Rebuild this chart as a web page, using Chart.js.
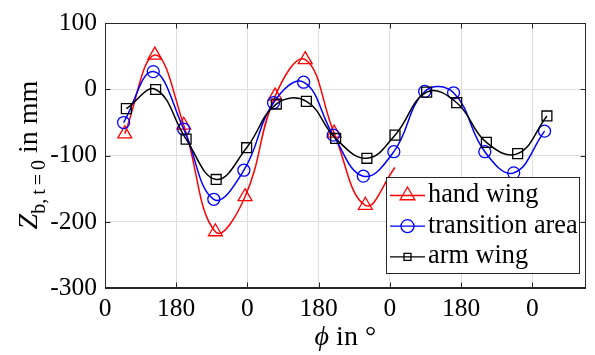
<!DOCTYPE html>
<html>
<head>
<meta charset="utf-8">
<script src="https://cdn.jsdelivr.net/npm/chart.js@4/dist/chart.umd.min.js"></script>
<style>
  body{margin:0;background:#fff;}
  #wrap{width:595px;height:355px;}
</style>
</head>
<body>
<div id="wrap"><canvas id="myChart" width="595" height="355"></canvas></div>
<script>
// data (x in degrees, y in mm)
var handX = [50, 126, 199, 279, 354, 430, 506, 579, 658, 733];
var handY = [-67, 52, -54, -215, -162, -10, 45, -66, -175, -118];
var transX = [47, 122, 199, 275, 351, 426, 502, 577, 653, 730, 808, 881, 960, 1033, 1111];
var transY = [-50, 27, -60, -166, -122, -20, 11, -69, -131, -94, -3, -5, -94, -126, -63];
var armX = [54, 128, 205, 281, 358, 433, 509, 583, 662, 733, 813, 889, 964, 1043, 1117];
var armY = [-29, 0, -75, -136, -88, -22, -18, -74, -104, -69, -4, -20, -80, -97, -40];

var xTickValues = [0, 180, 360, 540, 720, 900, 1080];
var xTickLabels = ['0', '180', '0', '180', '0', '180', '0'];
var yTickValues = [-300, -200, -100, 0, 100];

var seriesNames = ['hand wing', 'transition area', 'arm wing'];
var seriesColors = ['#ff0000', '#0000ff', '#000000'];

var FONT = '"Liberation Serif", "Times New Roman", serif';
var AXIS = '#262626';

// x/y paaren bauen
function toPoints(xs, ys){
  var pts = [];
  for (var i = 0; i < xs.length; i++) pts.push({x: xs[i], y: ys[i]});
  return pts;
}

// letzter Punkt der roten Kurve hat keinen Marker
var handRadius = handX.map(function(v, i){ return i < 9 ? 8 : 0; });

// Marker selbst zeichnen (fuer die Legende)
function marker(ctx, style, x, y, r){
  ctx.beginPath();
  if (style == 'triangle'){
    ctx.moveTo(x, y - r);
    ctx.lineTo(x + r * 0.866, y + r * 0.5);
    ctx.lineTo(x - r * 0.866, y + r * 0.5);
    ctx.closePath();
  } else if (style == 'circle'){
    ctx.arc(x, y, r, 0, Math.PI * 2);
  } else {
    ctx.rect(x - r, y - r, 2 * r, 2 * r);
  }
  ctx.stroke();
}

// Text-Stuecke nacheinander schreiben: [text, font, dy]
function drawPieces(ctx, pieces, x, y){
  pieces.forEach(function(p){
    ctx.font = p[1];
    ctx.fillText(p[0], x, y + p[2]);
    x += ctx.measureText(p[0]).width;
  });
}
function piecesWidth(ctx, pieces){
  var w = 0;
  pieces.forEach(function(p){ ctx.font = p[1]; w += ctx.measureText(p[0]).width; });
  return w;
}

var matlabAxes = {
  id: 'matlabAxes',
  afterDatasetsDraw: function(chart){
    var ctx = chart.ctx, a = chart.chartArea;
    var xs = chart.scales.x, ys = chart.scales.y;
    var L = Math.round(a.left) + 0.5, R = Math.round(a.right) - 0.5;
    var T = Math.round(a.top) + 0.5, B = Math.round(a.bottom) - 0.5;
    ctx.save();
    ctx.strokeStyle = AXIS;
    ctx.lineWidth = 1;
    ctx.strokeRect(L, T, R - L, B - T);
    ctx.beginPath();
    xTickValues.forEach(function(v){
      var px = Math.round(xs.getPixelForValue(v)) + 0.5;
      ctx.moveTo(px, B); ctx.lineTo(px, B - 5);
      ctx.moveTo(px, T); ctx.lineTo(px, T + 5);
    });
    yTickValues.forEach(function(v){
      var py = Math.round(ys.getPixelForValue(v)) + 0.5;
      ctx.moveTo(L, py); ctx.lineTo(L + 5, py);
      ctx.moveTo(R, py); ctx.lineTo(R - 5, py);
    });
    ctx.stroke();
    ctx.restore();
  },
  afterDraw: function(chart){
    var ctx = chart.ctx, a = chart.chartArea;
    ctx.save();

    // Legende
    var lx = 386, ly = 177, lw = 193, lh = 96;
    ctx.fillStyle = '#fff';
    ctx.fillRect(lx, ly, lw, lh);
    ctx.strokeStyle = AXIS;
    ctx.lineWidth = 1;
    ctx.strokeRect(lx + 0.5, ly + 0.5, lw, lh);
    var styles = ['triangle', 'circle', 'rect'];
    var radii = [8.5, 6.5, 3.5];
    for (var i = 0; i < 3; i++){
      var base = 202 + i * 30.7;
      var my = base - 6.5;
      ctx.strokeStyle = seriesColors[i];
      ctx.lineWidth = 1.3;
      ctx.beginPath();
      ctx.moveTo(390, my); ctx.lineTo(425, my);
      ctx.stroke();
      marker(ctx, styles[i], 407.5, my, radii[i]);
      ctx.fillStyle = '#000';
      ctx.font = '26.3px ' + FONT;
      ctx.textAlign = 'left';
      ctx.textBaseline = 'alphabetic';
      ctx.fillText(seriesNames[i], 428, base);
    }

    // x-Achsentitel
    ctx.fillStyle = '#000';
    ctx.textAlign = 'left';
    ctx.textBaseline = 'alphabetic';
    var xt = [['\u03D5', 'italic 28px ' + FONT, 0], [' in \u00B0', '28px ' + FONT, 0]];
    var xw = piecesWidth(ctx, xt);
    drawPieces(ctx, xt, (a.left + a.right) / 2 - xw / 2, 345);

    // y-Achsentitel (mit Index)
    var sf = '20px ' + FONT;
    var yt = [
      ['Z', 'italic 28px ' + FONT, 0],
      ['b,\u2009t\u2009=\u20090', sf, 8],
      [' in mm', '28px ' + FONT, 0]
    ];
    var yw = piecesWidth(ctx, yt);
    ctx.translate(37, 155 + yw / 2);
    ctx.rotate(-Math.PI / 2);
    drawPieces(ctx, yt, 0, 0);
    ctx.restore();
  }
};

var ctx = document.getElementById('myChart');
new Chart(ctx, {
  type: 'line',
  data: {
    datasets: [
      {
        label: seriesNames[0],
        data: toPoints(handX, handY),
        borderColor: seriesColors[0],
        pointBorderColor: seriesColors[0],
        pointBackgroundColor: 'rgba(0,0,0,0)',
        pointStyle: 'triangle',
        pointRadius: handRadius,
        pointBorderWidth: 1.3,
        borderWidth: 1.5,
        tension: 0.42,
        order: 3
      },
      {
        label: seriesNames[1],
        data: toPoints(transX, transY),
        borderColor: seriesColors[1],
        pointBorderColor: seriesColors[1],
        pointBackgroundColor: 'rgba(0,0,0,0)',
        pointStyle: 'circle',
        pointRadius: 6,
        pointBorderWidth: 1.3,
        borderWidth: 1.5,
        tension: 0.42,
        order: 2
      },
      {
        label: seriesNames[2],
        data: toPoints(armX, armY),
        borderColor: seriesColors[2],
        pointBorderColor: seriesColors[2],
        pointBackgroundColor: 'rgba(0,0,0,0)',
        pointStyle: 'rect',
        pointRadius: 7,
        pointBorderWidth: 1.3,
        borderWidth: 1.5,
        tension: 0.42,
        order: 1
      }
    ]
  },
  options: {
    responsive: false,
    animation: false,
    devicePixelRatio: 1,
    layout: {padding: {top: 20, right: 1, left: 0, bottom: 0}},
    plugins: {
      legend: {display: false},
      tooltip: {enabled: false}
    },
    scales: {
      x: {
        type: 'linear',
        min: 0,
        max: 1215,
        afterBuildTicks: function(s){
          s.ticks = xTickValues.map(function(v){ return {value: v}; });
        },
        afterFit: function(s){ s.height = 67; },
        ticks: {
          padding: 6,
          color: '#000',
          font: {family: FONT, size: 25.5},
          maxRotation: 0,
          autoSkip: false,
          callback: function(v, i){ return xTickLabels[i]; }
        },
        grid: {color: '#dedede', drawTicks: false},
        border: {color: AXIS, width: 1}
      },
      y: {
        type: 'linear',
        min: -300,
        max: 100,
        afterBuildTicks: function(s){
          s.ticks = yTickValues.map(function(v){ return {value: v}; });
        },
        afterFit: function(s){ s.width = 105; },
        ticks: {
          padding: 8,
          color: '#000',
          font: {family: FONT, size: 25.5},
          callback: function(v){ return String(v); }
        },
        grid: {color: '#dedede', drawTicks: false},
        border: {color: AXIS, width: 1}
      }
    }
  },
  plugins: [matlabAxes]
});
</script>
</body>
</html>
